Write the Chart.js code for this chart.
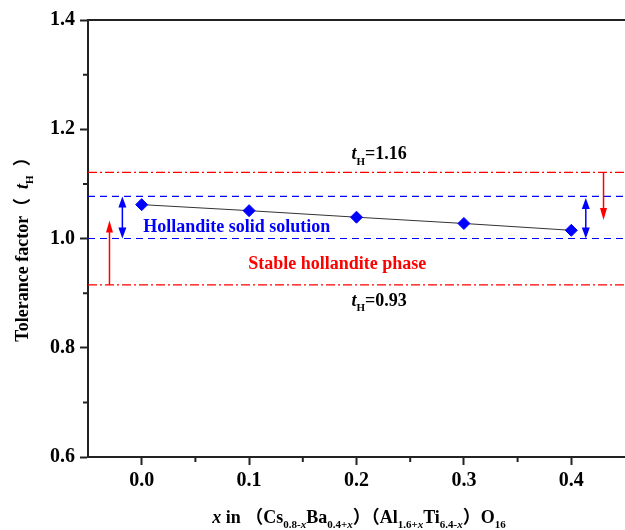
<!DOCTYPE html>
<html>
<head>
<meta charset="utf-8">
<script src="https://cdn.jsdelivr.net/npm/chart.js@4.4.0/dist/chart.umd.min.js"></script>
<style>
body { margin: 0; background: #fff; }
canvas { display: block; }
</style>
</head>
<body>
<canvas id="myChart" width="625" height="530"></canvas>
<script>
// values
var xValues = [0.0, 0.1, 0.2, 0.3, 0.4];
var tValues = [1.062, 1.051, 1.039, 1.0275, 1.015];
var xTickValues = [0.0, 0.1, 0.2, 0.3, 0.4];
var xMinorTicks = [0.05, 0.15, 0.25, 0.35];
var yTickValues = [0.6, 0.8, 1.0, 1.2, 1.4];
var yMinorTicks = [0.7, 0.9, 1.1, 1.3];
var redLimits = [1.121, 0.915];
var blueLimits = [1.077, 1.0];
var blueArrowX = [-0.018, 0.4135];
var blueArrowTop = [1.077, 1.074];
var blueArrowBottom = [1.0, 1.0];
var redArrowX = [-0.030, 0.430];
var redArrowFrom = [0.915, 1.121];
var redArrowTo = [1.033, 1.034];
var xMin = -0.05, xMax = 0.45;

var serif = '"Liberation Serif", "Noto Sans CJK SC", serif';
var RED = '#ff0000';
var BLUE = '#0000ff';

function hLine(y) {
    return [{x: xMin, y: y}, {x: xMax, y: y}];
}

var datasets = [];
for (let i = 0; i < redLimits.length; i++) {
    datasets.push({
        data: hLine(redLimits[i]),
        showLine: true,
        borderColor: RED,
        borderWidth: 1.2,
        borderDash: [9, 3, 2, 3],
        pointRadius: 0
    });
}
for (let i = 0; i < blueLimits.length; i++) {
    datasets.push({
        data: hLine(blueLimits[i]),
        showLine: true,
        borderColor: BLUE,
        borderWidth: 1.2,
        borderDash: [7, 5],
        pointRadius: 0
    });
}
datasets.push({
    data: xValues.map((x, i) => ({x: x, y: tValues[i]})),
    showLine: true,
    borderColor: '#333',
    borderWidth: 1,
    pointStyle: 'rectRot',
    pointRadius: 6,
    pointBorderWidth: 1,
    pointBackgroundColor: BLUE,
    pointBorderColor: BLUE
});

// text pieces, positions in data units (baseline)
var notes = [
    {parts: [{t: 't', i: true}, {t: 'H', sub: true}, {t: '=1.16'}], x: 0.221, y: 1.145, color: '#000'},
    {parts: [{t: 'Hollandite solid solution'}], x: 0.0886, y: 1.011, color: BLUE},
    {parts: [{t: 'Stable hollandite phase'}], x: 0.182, y: 0.945, color: RED},
    {parts: [{t: 't', i: true}, {t: 'H', sub: true}, {t: '=0.93'}], x: 0.221, y: 0.877, color: '#000'}
];

function fontFor(p, size) {
    let s = p.sub ? Math.round(size * 0.6) : size;
    return (p.i ? 'italic ' : '') + 'bold ' + s + 'px ' + serif;
}

function drawRich(ctx, parts, x, y, size, color) {
    let w = 0;
    for (let p of parts) {
        ctx.font = fontFor(p, size);
        w += ctx.measureText(p.t).width;
    }
    let cx = x - w / 2;
    ctx.fillStyle = color;
    ctx.textAlign = 'left';
    ctx.textBaseline = 'alphabetic';
    for (let p of parts) {
        ctx.font = fontFor(p, size);
        ctx.fillText(p.t, cx, p.sub ? y + size * 0.3 : y);
        cx += ctx.measureText(p.t).width;
    }
}

function arrow(ctx, px, py0, py1, color, headLen, headW, both) {
    ctx.save();
    ctx.strokeStyle = color;
    ctx.fillStyle = color;
    ctx.lineWidth = 1.5;
    let dir = py1 > py0 ? 1 : -1;
    ctx.beginPath();
    ctx.moveTo(px, both ? py0 + dir * headLen * 0.8 : py0);
    ctx.lineTo(px, py1 - dir * headLen * 0.8);
    ctx.stroke();
    let heads = both ? [[py1, dir], [py0, -dir]] : [[py1, dir]];
    for (let h of heads) {
        ctx.beginPath();
        ctx.moveTo(px, h[0]);
        ctx.lineTo(px - headW / 2, h[0] - h[1] * headLen);
        ctx.lineTo(px + headW / 2, h[0] - h[1] * headLen);
        ctx.closePath();
        ctx.fill();
    }
    ctx.restore();
}

const extras = {
    id: 'extras',
    afterLayout(chart) {
        // plot runs to the right edge of the picture (right frame is cut off)
        const xs = chart.scales.x;
        const area = chart.chartArea;
        xs.right = chart.width;
        xs.width = xs.right - xs.left;
        area.right = chart.width;
        area.width = area.right - area.left;
        xs.configure();
    },
    afterDraw(chart) {
        const ctx = chart.ctx;
        const xs = chart.scales.x;
        const ys = chart.scales.y;
        const area = chart.chartArea;
        ctx.save();
        // top frame line
        ctx.strokeStyle = '#222';
        ctx.lineWidth = 2;
        ctx.beginPath();
        ctx.moveTo(area.left - 1, area.top);
        ctx.lineTo(area.right, area.top);
        ctx.stroke();
        // minor ticks
        ctx.beginPath();
        for (let v of xMinorTicks) {
            let px = xs.getPixelForValue(v);
            ctx.moveTo(px, area.bottom);
            ctx.lineTo(px, area.bottom + 5);
        }
        for (let v of yMinorTicks) {
            let py = ys.getPixelForValue(v);
            ctx.moveTo(area.left, py);
            ctx.lineTo(area.left - 5, py);
        }
        ctx.stroke();

        for (let i = 0; i < blueArrowX.length; i++) {
            arrow(ctx, xs.getPixelForValue(blueArrowX[i]), ys.getPixelForValue(blueArrowTop[i]),
                ys.getPixelForValue(blueArrowBottom[i]), BLUE, 11, 8, true);
        }
        for (let i = 0; i < redArrowX.length; i++) {
            arrow(ctx, xs.getPixelForValue(redArrowX[i]), ys.getPixelForValue(redArrowFrom[i]),
                ys.getPixelForValue(redArrowTo[i]), RED, 12, 7, false);
        }

        for (let n of notes) {
            drawRich(ctx, n.parts, xs.getPixelForValue(n.x), ys.getPixelForValue(n.y), 18, n.color);
        }

        // axis titles
        drawRich(ctx, [
            {t: 'x', i: true}, {t: ' in （Cs'}, {t: '0.8-', sub: true}, {t: 'x', sub: true, i: true},
            {t: 'Ba'}, {t: '0.4+', sub: true}, {t: 'x', sub: true, i: true},
            {t: '）（Al'}, {t: '1.6+', sub: true}, {t: 'x', sub: true, i: true},
            {t: 'Ti'}, {t: '6.4-', sub: true}, {t: 'x', sub: true, i: true},
            {t: '）O'}, {t: '16', sub: true}
        ], 359, 523, 18, '#000');

        ctx.translate(28, 245);
        ctx.rotate(-Math.PI / 2);
        drawRich(ctx, [{t: 'Tolerance factor（\u2002'}, {t: 't', i: true}, {t: 'H', sub: true}, {t: '\u2002）'}], 0, 0, 18, '#000');
        ctx.restore();
    }
};

var config = {
    type: 'scatter',
    data: {datasets: datasets},
    options: {
        responsive: false,
        animation: false,
        layout: {padding: {top: 20, right: 0, left: 0, bottom: 0}},
        plugins: {legend: {display: false}, tooltip: {enabled: false}},
        scales: {
            x: {
                type: 'linear',
                min: xMin,
                max: xMax,
                afterBuildTicks: (scale) => { scale.ticks = xTickValues.map(v => ({value: v})); },
                afterFit: (scale) => { scale.height = 73; },
                ticks: {
                    callback: (v) => Number(v).toFixed(1),
                    font: {family: serif, size: 20, weight: 'bold'},
                    color: '#000',
                    padding: 4,
                    maxRotation: 0,
                    autoSkip: false
                },
                grid: {drawOnChartArea: false, drawTicks: true, tickLength: 8, tickColor: '#222', tickWidth: 2},
                border: {display: true, color: '#222', width: 2}
            },
            y: {
                type: 'linear',
                min: 0.6,
                max: 1.4,
                afterBuildTicks: (scale) => { scale.ticks = yTickValues.map(v => ({value: v})); },
                afterFit: (scale) => { scale.width = 88; },
                ticks: {
                    callback: (v) => Number(v).toFixed(1),
                    font: {family: serif, size: 20, weight: 'bold'},
                    color: '#000',
                    padding: 5,
                    autoSkip: false
                },
                grid: {drawOnChartArea: false, drawTicks: true, tickLength: 8, tickColor: '#222', tickWidth: 2},
                border: {display: true, color: '#222', width: 2}
            }
        }
    },
    plugins: [extras]
};

var myChart = new Chart(document.getElementById('myChart'), config);
</script>
</body>
</html>
